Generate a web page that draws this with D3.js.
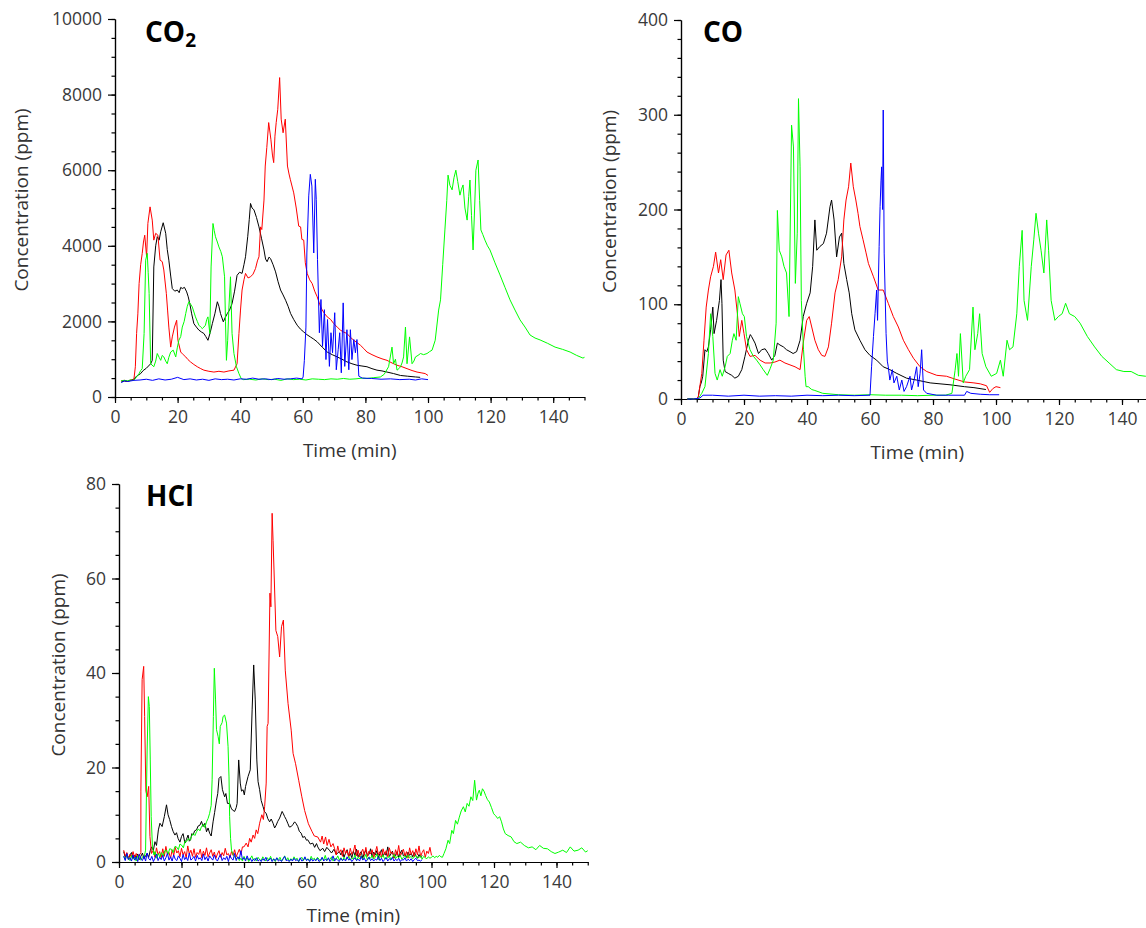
<!DOCTYPE html>
<html>
<head>
<meta charset="utf-8">
<script src="https://d3js.org/d3.v7.min.js"></script>
<style>
  body { margin: 0; background: #fff; }
  svg { display: block; font-family: "Open Sans", sans-serif; background: #fff; }
  .tick text { fill: #3a3a3a; font-size: 17.5px; font-family: "Open Sans", sans-serif; }
  .axis path, .axis line { stroke: #000; stroke-width: 1.2; }
  .series { fill: none; stroke-width: 1; stroke-linejoin: round; }
  .axis-title { fill: #333; font-size: 19px; }
  .panel-title { fill: #000; font-size: 28px; font-weight: 700; }
</style>
</head>
<body>
<svg id="chart" width="1146" height="928"></svg>
<script>
// tick labels
const xTicks = [0, 20, 40, 60, 80, 100, 120, 140];
const co2Ticks = [0, 2000, 4000, 6000, 8000, 10000];
const coTicks = [0, 100, 200, 300, 400];
const hclTicks = [0, 20, 40, 60, 80];

// helper: values read at a fixed time step -> [t, v] pairs
function steps(t0, dt, vals) { return vals.map((v, i) => [t0 + i * dt, v]); }

// ---------- CO2 (ppm) ----------
const co2Black = [[2,400],[3,420],[4,410],[5,440],[6,470],[7,560],[8.2,620],[9,700],[10,760],[11.4,880],[11.9,970],[12.4,3440],[13,4000],[13.5,4240],[14.1,4150],[14.6,4370],[15.4,4610],[16.2,4330],[16.7,3900],[17.2,3620],[17.8,3200],[18.3,2870],[19.1,2800],[19.9,2830],[20.5,2760],[21,2900],[21.5,2870],[22.2,2900],[22.9,2780],[23.4,2650],[23.9,2470],[24.5,2200],[25.2,1940],[26,1850],[26.8,1770],[27.6,1720],[28.4,1680],[29,1600],[29.7,1500],[30.4,1700],[31.1,1940],[31.9,2200],[32.7,2520],[33.2,2400],[33.7,2210],[34.6,1990],[35.2,2100],[35.9,2210],[36.6,2300],[37.4,2470],[38.2,2800],[39,3220],[39.8,3300],[40.6,3270],[41.2,3500],[41.7,3710],[42.4,4240],[42.9,4700],[43.3,5120],[43.8,5000],[44.4,4950],[45.2,4750],[46,4500],[46.8,4200],[47.6,3890],[48.1,3650],[48.6,3580],[49.2,3700],[49.7,3660],[50.5,3500],[51.3,3310],[52.1,3050],[52.9,2830],[53.7,2700],[54.5,2560],[55.3,2400],[56.1,2210],[57.1,2050],[58.2,1900],[59.2,1800],[60.3,1720],[61.3,1650],[62.4,1590],[63.5,1530],[64.6,1460],[66.2,1320],[67.8,1190],[69.4,1120],[71,1060],[72.5,1000],[74.1,930],[75.7,880],[77.3,840],[78.9,820],[80.5,800],[82.1,750],[83.7,710],[85.3,690],[86.9,660],[89,620],[91.2,570],[93.5,550],[96,530],[97.5,520]];
const co2Red = [[2,430],[3,440],[4,420],[5,450],[6,440],[6.5,800],[6.9,1680],[7.3,2200],[7.7,3000],[8.2,3500],[8.7,3800],[9.1,4100],[9.5,4280],[10.1,3710],[10.5,4590],[11.2,5030],[11.9,4680],[12.4,4150],[13,4330],[13.7,4280],[14.4,3620],[15.1,3580],[15.6,3360],[16.4,2740],[16.8,2300],[17.2,1850],[17.8,1320],[18.3,1590],[19,1850],[19.7,2030],[20.1,1500],[21,1190],[21.8,1120],[22.6,1060],[23.3,990],[24.1,930],[25.2,860],[26.3,800],[27.4,750],[28.4,710],[30,680],[31.6,660],[33.2,680],[34.8,660],[36.4,690],[38,710],[39,880],[39.6,1680],[40.1,2300],[40.6,2830],[41.2,3100],[41.7,3270],[42.5,3150],[43.3,3180],[44.1,3250],[44.9,3400],[45.5,3600],[46,3710],[46.5,4500],[46.9,4430],[47.6,5210],[48,6110],[48.5,6600],[49.1,7260],[49.8,6820],[50.3,6400],[50.7,6200],[51.1,6900],[51.5,7260],[52,7610],[52.6,8450],[53.1,7350],[53.7,6990],[54.4,7350],[55.1,6110],[55.6,5900],[56,5760],[57.1,5400],[57.9,5000],[58.7,4520],[59.3,4500],[59.7,4170],[60.3,4150],[60.8,3550],[61.4,3270],[62.2,3100],[63,3000],[63.8,2800],[64.6,2650],[65.4,2450],[66.2,2300],[67,2200],[67.8,2120],[68.9,2050],[69.9,1940],[71,1850],[72,1770],[73,1720],[74.1,1680],[75.2,1580],[76.3,1500],[77.3,1440],[78.4,1370],[79.5,1280],[80.5,1190],[82.1,1120],[83.7,1060],[85.3,1010],[86.9,970],[88.5,900],[90.1,840],[91.7,800],[93.3,750],[94.9,700],[96.5,660],[97.8,640],[99.1,620],[100,570]];
const co2Green = [[2,430],[3,440],[4,430],[5,450],[6,440],[6.8,520],[7.7,620],[8.2,700],[8.7,750],[9.3,1680],[9.8,3620],[10.3,3800],[10.6,3300],[10.9,2740],[11.4,880],[12.4,800],[13,950],[13.5,1150],[14.1,1050],[14.6,970],[15.1,1100],[15.6,1060],[16.2,950],[16.7,880],[17.2,1050],[17.8,1190],[18.6,1240],[19.4,1060],[19.9,1300],[20.4,1500],[21,1600],[21.5,1850],[22.1,2000],[22.6,2210],[23.1,2400],[23.6,2520],[24.2,2450],[24.7,2380],[25.2,2250],[25.7,2120],[26.3,2000],[26.8,1900],[27.4,1850],[27.9,1810],[28.4,1850],[28.9,1900],[29.3,2050],[29.7,2120],[30.3,1680],[30.7,3440],[31.3,4590],[31.7,4400],[32.1,4240],[32.7,4100],[33.2,3970],[33.8,3850],[34.3,3710],[35,3180],[35.3,2000],[35.6,970],[36,1500],[36.4,2380],[36.9,3180],[37.4,1680],[38,1150],[38.8,800],[39.6,620],[40.3,490],[41,460],[43,470],[45,450],[47,480],[49,460],[51,470],[53,440],[55,480],[57,460],[59,470],[61,450],[63,480],[65,470],[67,460],[69,480],[71,470],[73,490],[75,470],[77,480],[79,500],[80.5,490],[82.5,510],[84.8,530],[86,600],[87.4,800],[88.5,1320],[89,880],[89.6,1000],[90.1,710],[90.7,750],[91.2,800],[91.7,900],[92.2,1060],[92.8,1850],[93.3,880],[94.1,1590],[94.9,880],[95.5,950],[96,1060],[96.8,1100],[97.6,1150],[98.6,1120],[99.7,1150],[100.5,1200],[101.3,1240],[102.3,1500],[103.4,2300],[104,2570],[104.7,3500],[105.4,4420],[106,5200],[106.4,5870],[107,5600],[107.7,5480],[108.3,5800],[108.9,6000],[109.5,5700],[110.2,5340],[110.7,5500],[111.2,5610],[111.8,5000],[112.5,4680],[113,5300],[113.4,5740],[113.9,4800],[114.4,3890],[114.9,5000],[115.3,6000],[116,6270],[116.5,5200],[116.9,4420],[117.5,4300],[118.2,4150],[119,4000],[119.8,3890],[121.4,3550],[123,3230],[124.6,2900],[126.2,2570],[127.8,2300],[129.4,2040],[131,1850],[132.6,1640],[134.2,1560],[135.8,1510],[138.2,1420],[140.6,1320],[143,1260],[145.4,1190],[147.5,1100],[149.5,1030],[150,1050]];
const co2Blue = [[2,380],[3,430],[4,410],[6,440],[8,450],[10,470],[12,440],[14,480],[16,450],[18,470],[20,520],[22,460],[24,480],[26,450],[28,470],[30,440],[32,480],[34,460],[36,470],[38,450],[40,480],[42,470],[44,500],[46,470],[48,480],[50,460],[52,490],[54,470],[56,480],[58,500],[59.8,480],[60.1,530],[60.5,970],[61,1850],[61.3,3810],[61.9,5320],[62.4,5890],[62.9,5580],[63.5,3810],[64,5760],[64.3,5230],[64.7,3640],[65.3,1700],[65.8,2580],[66.3,1340],[66.9,2310],[67.4,990],[67.9,2050],[68.5,810],[69,1700],[69.5,1170],[70.2,2230],[70.7,720],[71.3,1250],[71.8,1700],[72.3,640],[72.9,2490],[73.4,810],[74.1,1780],[74.7,720],[75.2,1780],[75.7,990],[76.3,1520],[76.8,1170],[77.3,1520],[77.9,550],[79,500],[82,490],[85,470],[88,480],[91,460],[94,470],[96,450],[98,480],[100,460]];

// ---------- CO (ppm) ----------
const coBlack = [[2,0],[3,0.5],[4,0],[5,0.5],[5.5,2.5],[6,13],[6.5,18],[6.9,24],[7.6,52],[8.2,50],[8.7,55],[9.4,73],[10.1,97],[10.5,69],[11.3,83],[12.2,104],[12.7,126],[13,101],[13.4,41],[14,29],[15,27],[16.1,25],[17.1,22],[18.2,24],[19.3,31],[20.3,45],[21.4,62],[22,68],[22.4,66],[23.5,59],[24.6,48],[25.6,52],[26.7,53],[27.7,48],[28.8,41],[29.8,46],[30.6,59],[31.4,57],[32.5,55],[33.5,52],[34.6,50],[35.6,48],[36.7,50],[37.8,62],[38.8,87],[39.9,101],[41,112],[41.8,140],[42.5,189],[43.1,157],[44.1,161],[45.2,164],[46.2,175],[47.3,203],[47.8,210],[48.6,189],[49.4,150],[50.3,171],[51,175],[51.7,143],[52.6,126],[53.4,112],[54.2,90],[55.2,73],[56.8,62],[58.4,52],[60,46],[62.1,41],[64.2,34],[66.3,31],[68.5,27],[71.6,22],[74.8,20],[79.1,17],[85.4,15],[90,13],[93,12],[96.8,10]];
const coRed = [[2,0],[3,0.3],[4,0],[5,0.4],[5.5,2.5],[6.6,27],[7.3,62],[8,97],[8.7,115],[9.4,129],[10.3,140],[11,155],[11.9,133],[12.6,147],[13.4,126],[14.3,152],[15.2,157],[16.1,133],[17.1,115],[17.9,90],[18.5,66],[19.3,83],[20,69],[20.8,52],[21.9,45],[23.5,46],[25.1,41],[26.7,38],[28.3,38],[29.8,39],[31.4,41],[33,38],[34.6,36],[36.2,34],[37.8,31],[38.8,59],[39.9,83],[40.7,87],[41.5,76],[42.5,62],[43.6,52],[44.7,46],[45.7,45],[46.8,55],[47.8,80],[48.9,112],[49.9,126],[51,150],[51.7,189],[52.4,210],[53.2,224],[53.9,249],[54.7,224],[55.5,210],[56.2,196],[56.8,182],[57.8,168],[58.7,155],[59.5,143],[61.1,129],[62.6,115],[64.2,115],[65.8,101],[67.4,87],[69,76],[70.6,62],[72.2,52],[73.8,43],[75.9,34],[78,29],[81.2,25],[84.3,24],[87,21],[90,18],[93,17],[95,16],[97,14],[98,7],[99,11],[100,13],[101.4,12]];
const coGreen = [[2,0],[3,0.3],[4,0],[5,0.3],[5.5,0.5],[6.6,6],[7.6,13],[8.7,48],[9.4,90],[10.1,66],[10.8,27],[11.5,20],[12.4,31],[13.1,24],[14,34],[14.7,45],[15.6,48],[16.3,62],[16.8,69],[17.5,62],[18.2,108],[18.7,101],[19.5,90],[20.1,87],[20.8,66],[21.9,52],[23,45],[24,41],[25.1,36],[26.1,31],[27.4,25],[28.3,32],[29.3,41],[30.2,80],[30.6,199],[31.2,157],[32,150],[32.7,140],[33.5,133],[34.3,87],[35.1,289],[35.7,266],[36.3,122],[36.9,175],[37.3,317],[37.8,245],[38.2,104],[38.9,52],[39.4,24],[39.7,13],[40.4,13],[41.5,10],[42.5,9],[45,6],[50,4.5],[55,4],[60,4.5],[65,4],[70,4],[75,3.5],[80,4],[84,4],[86,6],[87,30],[87.6,48],[88.1,24],[88.7,69],[89.6,17],[90.4,24],[91.6,31],[92.7,97],[93.3,52],[94.2,69],[94.8,90],[95.6,48],[96.8,34],[98.5,24],[100.2,27],[101.4,41],[102.3,24],[103.5,62],[104.3,52],[105.4,55],[106.6,90],[107.4,140],[108.3,178],[108.9,104],[110,83],[111.2,140],[112,168],[112.7,196],[113.5,175],[114.3,157],[115.2,133],[116.1,189],[116.7,157],[117.5,104],[118.7,83],[119.8,87],[121,90],[122.1,101],[123.3,90],[125,87],[126.7,80],[129,66],[131.3,55],[133.6,45],[135.9,38],[138.2,31],[140.6,29],[142.9,29],[145.2,25],[147.5,24],[150,22]];
const coBlue = [[2,0],[4,0],[6,1],[7,4],[10,4],[15,3],[20,4],[25,3],[30,3.5],[35,3],[40,4],[45,3.5],[50,4],[55,3.5],[60,4],[60.5,34],[61.1,66],[61.6,90],[62.1,115],[62.4,83],[62.9,161],[63.2,203],[63.5,231],[63.7,245],[64,200],[64.2,305],[64.5,154],[65.1,69],[65.5,40],[65.8,34],[66.3,20],[67.1,31],[67.6,17],[68.5,24],[69.3,9.5],[70.1,20],[70.8,8],[71.6,13],[72.7,24],[73.2,9.5],[74,20],[74.8,34],[75.3,13],[75.9,27],[76.4,52],[77,9.5],[78,6],[81.2,4],[85,4],[90,4],[90.7,8],[92,6],[95,5],[98,4.5],[101,4.5]];

// ---------- HCl (ppm) ----------
const hclBlack = [].concat(
  steps(1.5, 0.5, [2.2,1.0,1.8,0.6,1.5,2.0,0.8,1.4,0.9,1.7,0.5,1.2,1.9,0.7,1.3,1.8,1.0,2.4]),
  [[10.4,3.2],[11,2.5],[11.5,4.3],[12,3.5],[12.6,6.8],[13.1,8.2],[13.8,7.5],[14.5,9.6],[15.2,12.1],[15.7,10],[16.2,9],[16.8,7.5],[17.3,6.5],[17.9,5.7],[18.4,6.2],[18.9,5],[19.5,4.2],[20,5.4],[20.5,6],[21.1,4],[21.6,4.8],[22.1,5.7],[22.5,4.4],[22.9,4.7],[23.3,6],[23.7,5.7],[24.2,6.6],[24.8,6.8],[25.3,7.6],[25.9,7.8],[26.4,8.6],[26.9,7.5],[27.5,8.2],[28,6.4],[28.5,7.2],[29,6.1],[29.5,5.5],[30.1,8.5],[30.6,10.5],[31.2,13.1],[31.6,14.5],[32,17.7],[32.6,18.1],[33.1,15.3],[33.8,13.8],[34.2,14.5],[34.7,12.4],[35.4,12.4],[35.9,11.4],[36.3,11],[37,10.7],[37.5,11.5],[37.8,12.4],[38.3,21.6],[38.8,16.7],[39.2,15],[39.7,15.3],[40.1,14.2],[40.5,16],[41.3,18.1],[42,19.5],[42.6,32.2],[43.1,41.7],[43.6,34.3],[44.1,21.6],[44.5,17],[45,15.3],[45.5,13],[46.1,11.7],[46.6,10.6],[47.1,10.3],[47.6,9.2],[48.2,8.5],[48.7,9.1],[49.3,8.2],[49.8,7.2],[50.3,7.8],[50.8,8.6],[51.4,9.3],[52.2,10.7],[52.6,10.2],[53,9.6],[53.5,9],[54,8.2],[54.5,7.4],[55.1,7.5],[55.6,7.9],[56.2,8.5],[56.7,8.1],[57.2,7.5],[57.7,6.5],[58.3,6.1],[58.8,5.2],[59.4,5.4],[60,4.6],[60.4,4.7],[61.2,3.8],[62,4],[62.6,3.1],[63.2,3.9],[63.6,3.2],[64.3,2.4],[65.2,2.9],[65.8,2.2],[66.5,3.1],[67.3,2.5],[68,1.9],[68.8,2.7],[69.5,1.6],[70.5,2.2]],
  steps(71, 0.5, [1.5,2.4,1.0,1.9,2.6,1.2,1.8,0.9,2.3,1.4,2.7,1.1,1.7,2.2,0.8,1.9,2.5,1.3,1.6,2.8,1.0,2.1,1.5,2.4,0.9,1.8,2.6,1.2,2.0,1.4,3.2,1.1,1.7,2.3,0.8,1.5,2.2,1.0,1.9,2.5,1.3,1.6,0.9,2.1,1.4,1.8,1.1,2.0,1.3,0.8,1.6,1.0,1.4])
);
const hclRed = [].concat(
  steps(1.5, 0.5, [2.5,1.2,2.0,0.8,1.6,1.0,2.2,0.9,1.8,1.1,1.4,2.0]),
  [[7.0,15],[7.4,38.6],[7.9,41.4],[8.2,30.8],[8.6,15],[9.0,13.8],[9.5,16],[9.9,5.4],[10.4,1.8]],
  steps(11, 0.5, [2.5,1.0,3.0,1.5,2.2,0.9,2.8,1.2,3.3,1.6,2.0,0.8,2.6,1.4,3.1,1.9,2.4,1.1,2.9,1.5,2.2,0.9,3.4,1.7,2.5,1.2,2.8,1.0,2.0,1.6,2.7,0.9,2.3,1.4,3.0,1.1,1.9,2.6,1.2,2.1,0.8,1.7,2.4,1.0,2.0,1.3,2.9,1.5,1.8,0.9,2.2,1.4,2.6,1.1,1.9,2.7,1.6,3.2]),
  [[40,3.2],[40.7,4],[41.3,3.2],[41.8,5],[42.3,4.2],[42.9,5.7],[43.4,5],[43.9,6.8],[44.4,6],[45,8.2],[45.7,10],[46.2,9],[46.6,11.7],[47.1,16.7],[47.4,28.7],[47.7,29.3],[48.3,56.9],[48.6,54],[49,73.8],[49.3,68],[49.6,61.8],[50.2,49],[50.8,47.7],[51.4,43.4],[52,49.8],[52.6,51.2],[53.2,40.6],[54.1,33.5],[55.1,27.9],[55.7,23],[56.5,20.8],[57.5,17.3],[58.5,13.8],[59.4,10.9],[60.6,8.1],[61.8,6.4],[62.5,5.5],[63.6,5.3],[64.5,4.2],[65,5.5],[65.5,3.8],[66.1,5.3],[66.6,3.5],[67.2,4.8],[67.8,3.2],[68.5,3.9]],
  steps(69, 0.5, [2.8,1.5,3.4,2.0,2.6,1.2,3.0,1.8,2.4,1.0,2.9,1.6,2.2,3.6,1.3,2.5,1.1,2.0,2.7,1.4,3.1,1.2,2.3,1.7,2.6,0.9,2.0,3.3,1.5,2.2,1.0,2.8,1.6,2.4,1.1,3.0,1.8,2.1,0.9,2.6,1.4,3.5,1.2,2.0,2.7,1.3,2.2,0.8,3.0,1.6,2.4,1.1,2.8,1.5,3.4,1.2,2.0,2.6,1.0,2.3,1.8,3.1,1.4])
);
const hclGreen = [].concat(
  steps(1.5, 0.5, [1.2,0.5,1.6,0.8,0.3,1.4,0.6,1.0,0.2,1.3,0.7,0.4,1.1,0.9,2.5]),
  [[9,23.7],[9.4,35],[9.7,32.9],[10,21.6],[10.3,9.6],[10.7,3.2],[11.2,1.5],[11.5,2.2],[12,0.8],[12.6,1.8],[13.1,1.0],[13.6,2.0],[14.1,1.2],[14.7,2.4],[15.2,2.5],[15.7,1.6],[16.2,2.8],[16.8,2.7],[17.3,2.0],[17.9,3.3],[18.4,3.2],[19,2.6],[19.5,3.8],[20,3.6],[20.6,3.0],[21.1,4.4],[21.6,4.3],[22.2,5.0],[22.7,4.6],[23.2,5.4],[23.7,6.0],[24.3,5.6],[24.8,6.4],[25.4,7.0],[25.9,6.6],[26.4,7.5],[27,8.0],[27.5,7.3],[28,8.5],[28.5,9.2],[29,10.3],[29.5,12],[29.8,17.4],[30.2,30.8],[30.5,41],[30.9,34.3],[31.2,28],[31.7,26.6],[32.1,25],[32.4,28.7],[33,29.5],[33.3,30.8],[33.8,31.1],[34.4,29.4],[34.9,24.4],[35.2,18],[35.4,9.6],[35.7,5],[36,2.5],[36.5,1.6],[37,1.1]],
  steps(37.5, 0.5, [0.6,1.1,0.3,0.8,0.2,1.2,0.5,0.9,0.1,0.7,1.3,0.4,0.8,0.2,1.0,0.5,0.3,1.1,0.6,0.2,0.9,0.4,1.2,0.3,0.7,0.1,0.8,0.5,1.0,0.2,0.6,1.3,0.4,0.9,0.2,0.7,0.3,1.1,0.5,0.8,0.1,0.6,1.0,0.3,0.9,0.4,0.7,0.2,1.2,0.5,0.8,0.3,1.0,0.6,0.2,0.9,0.4,1.4,0.3,0.7,0.5,1.1,0.2,0.8,0.6,1.3,0.4,0.9,0.3,1.0,0.5,0.7,1.2,0.4,0.8,0.6,1.5,0.3,1.0,0.7,1.3,0.5,0.9,1.6,0.4,1.1,0.8,1.4,0.6,1.0,1.7,0.5,1.2,0.9,1.5,0.6,1.1,0.8,1.3,0.5,1.0,1.6,0.7,1.2,0.9,1.4,0.6,1.0,1.3,0.8,1.5,0.9,1.2,0.7,1.1,1.4,0.8,1.0,1.3,0.6,1.2,0.9,0.7,1.1,0.8,1.0,1.3,0.9,1.2,1.0,1.4,1.1]),
  [[103.5,1.0],[104,1.8],[104.6,2.8],[105.3,4.6],[105.8,3.9],[106.5,6.7],[107,6.0],[107.7,8.8],[108.3,8.0],[108.9,9.5],[109.5,10.8],[110.2,11.7],[110.8,10.6],[111.4,12.4],[112,11.8],[112.6,13.8],[113.2,13.0],[113.8,17.3],[114.4,13.1],[114.9,14.6],[115.3,15.2],[115.8,14.0],[116.3,15.5],[116.8,15.0],[117.3,14.1],[117.9,13.2],[118.5,12.7],[119.2,11.5],[119.9,10.2],[120.5,9.8],[121.2,9.2],[121.8,9.6],[122.4,8.5],[123,7.0],[123.6,6.0],[124.5,5.6],[125.5,5.3],[126.4,4.3],[127.3,3.9],[128.5,4.2],[129.7,3.5],[131,3.0],[132.2,3.2],[133.4,2.6],[134.6,3.5],[135.8,2.9],[137.1,2.8],[138.3,2.2],[139.5,1.8],[140.7,2.1],[142,2.5],[143.2,2.0],[144.4,3.2],[145.6,2.3],[146.9,2.5],[148.1,3.0],[149.3,2.1],[150,2.4]]
);
const hclBlue = steps(1.5, 0.5, [1.2,0.3,1.8,0.5,0.9,0.2,1.5,0.4,1.1,0.1,1.6,0.6,0.3,1.3,0.2,1.9,0.7,0.4,1.2,0.1,0.8,1.7,0.3,1.0,0.5,1.4,0.2,0.9,1.8,0.4,1.1,0.2,1.5,0.6,0.3,1.3,0.8,0.1,1.6,0.5,1.0,0.3,1.9,0.4,0.7,1.2,0.2,1.4,0.6,0.9,0.3,1.7,0.5,1.1,0.2,1.3,0.8,0.4,1.5,0.6,0.2,1.0,1.6,0.3,0.9,0.5,1.2,0.1,1.4,0.7,0.4,1.8,0.3,1.1,0.6,2.4,0.5,0.9,0.2,1.3,0.4,0.8,0.1,0.6,0.3,0.9,0.2,0.5,0.1,0.7,0.3,1.0,0.2,0.4,0.8,0.1,0.6,0.3,0.9,0.2,0.5,0.1,0.7,1.2,0.3,0.4,0.1,0.6,0.2,0.8,0.3,0.5,0.1,0.9,0.2,0.4,1.1,0.3,0.6,0.1,0.7,0.2,0.5,0.3,0.8,0.1,0.4,1.0,0.2,0.6,0.3,0.9,0.1,0.5,1.3,0.2,0.7,0.4,0.1,0.8,0.3,0.6,0.2,1.1,0.4,0.7,0.1,0.5,0.9,0.3,0.6,0.2,1.2,0.4,0.8,0.1,0.5,1.0,0.3,0.7,0.2,0.6,0.4,1.1,0.3,0.8,0.1,0.5,0.9,0.2,0.7,0.4,1.0,0.2,0.6,0.3,0.8,0.1,0.5,0.4,0.9,0.2,0.6,0.3,0.7,0.1,0.5,0.8,0.3,0.4,0.2,0.5]);

const colors = { black: "#000000", red: "#ff0000", green: "#00ff00", blue: "#0000ff" };

const svg = d3.select("#chart");

function drawPanel(p) {
  const x = d3.scaleLinear().domain([0, 150]).range([p.left, p.left + 150 * p.pxPerMin]);
  const y = d3.scaleLinear().domain([0, p.yMax]).range([p.bottom, p.top]);
  const g = svg.append("g");

  // minor ticks
  g.append("g").attr("class", "axis")
    .attr("transform", `translate(0,${p.bottom})`)
    .call(d3.axisBottom(x).tickValues(d3.range(0, 151, 5)).tickSize(3.5).tickSizeOuter(0).tickFormat(""));
  g.append("g").attr("class", "axis")
    .attr("transform", `translate(${p.left},0)`)
    .call(d3.axisLeft(y).tickValues(d3.range(0, p.yMax + 1e-9, p.yMinor)).tickSize(3.5).tickSizeOuter(0).tickFormat(""));

  // major ticks
  g.append("g").attr("class", "axis")
    .attr("transform", `translate(0,${p.bottom})`)
    .call(d3.axisBottom(x).tickValues(xTicks).tickSize(6).tickPadding(8).tickSizeOuter(0).tickFormat(d3.format("d")));
  g.append("g").attr("class", "axis")
    .attr("transform", `translate(${p.left},0)`)
    .call(d3.axisLeft(y).tickValues(p.yTicks).tickSize(7).tickPadding(6).tickSizeOuter(0).tickFormat(d3.format("d")));

  // series
  const line = d3.line().x(d => x(d[0])).y(d => y(d[1]));
  p.series.forEach(s => {
    g.append("path").attr("class", "series")
      .attr("stroke", colors[s.color])
      .attr("d", line(s.data));
  });

  // axis titles
  g.append("text").attr("class", "axis-title")
    .attr("x", (p.left + x(150)) / 2).attr("y", p.bottom + 53)
    .attr("text-anchor", "middle").attr("dominant-baseline", "central")
    .text("Time (min)");
  g.append("text").attr("class", "axis-title")
    .attr("transform", `translate(${p.yLabelX},${(p.top + p.bottom) / 2 - 8}) rotate(-90)`)
    .attr("text-anchor", "middle").attr("dominant-baseline", "central")
    .text("Concentration (ppm)");

  // panel title
  const t = g.append("text").attr("class", "panel-title")
    .attr("x", p.titleX).attr("y", p.titleY);
  t.append("tspan").text(p.title);
  if (p.sub) t.append("tspan").attr("font-size", "19px").attr("dy", 5).text(p.sub);
}

drawPanel({
  left: 115, pxPerMin: 3.13, top: 19, bottom: 397, yMax: 10000, yMinor: 500, yTicks: co2Ticks,
  yLabelX: 21, title: "CO", sub: "2", titleX: 145, titleY: 42,
  series: [{color: "black", data: co2Black}, {color: "red", data: co2Red}, {color: "green", data: co2Green}, {color: "blue", data: co2Blue}]
});
drawPanel({
  left: 681, pxPerMin: 3.15, top: 20, bottom: 399, yMax: 400, yMinor: 20, yTicks: coTicks,
  yLabelX: 609, title: "CO", titleX: 703, titleY: 42,
  series: [{color: "black", data: coBlack}, {color: "red", data: coRed}, {color: "green", data: coGreen}, {color: "blue", data: coBlue}]
});
drawPanel({
  left: 119, pxPerMin: 3.125, top: 484, bottom: 862, yMax: 80, yMinor: 5, yTicks: hclTicks,
  yLabelX: 58, title: "HCl", titleX: 146, titleY: 506,
  series: [{color: "black", data: hclBlack}, {color: "red", data: hclRed}, {color: "green", data: hclGreen}, {color: "blue", data: hclBlue}]
});
</script>
</body>
</html>
